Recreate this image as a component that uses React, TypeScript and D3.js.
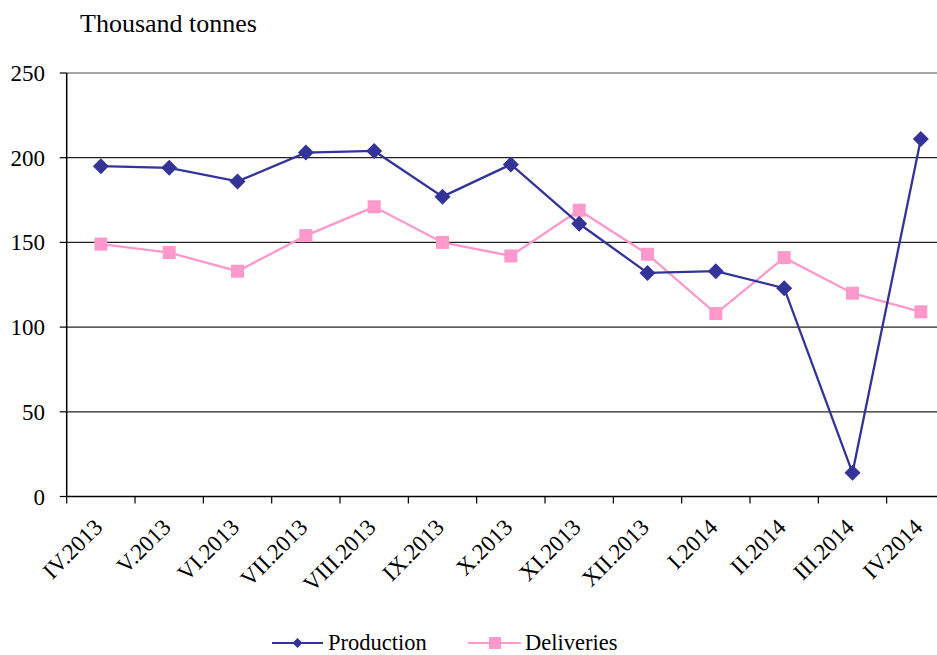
import React from "react";
import * as d3 from "d3";

const categories = ["IV.2013","V.2013","VI.2013","VII.2013","VIII.2013","IX.2013","X.2013","XI.2013","XII.2013","I.2014","II.2014","III.2014","IV.2014"];
const production = [195, 194, 186, 203, 204, 177, 196, 161, 132, 133, 123, 14, 211];
const deliveries = [149, 144, 133, 154, 171, 150, 142, 169, 143, 108, 141, 120, 109];
const yTicks = [0, 50, 100, 150, 200, 250];

const W = 937, H = 655;
const left = 66.7, bandW = 68.33;
const top = 73, bottom = 496.5;
const font = "Liberation Serif";
const PROD = "#333399", DEL = "#FF99CC";

export default function App() {
  const x = d3.scaleBand<string>().domain(categories).range([left, left + bandW * categories.length]).padding(0);
  const y = d3.scaleLinear().domain([0, 250]).range([bottom, top]);
  const cx = (c: string) => (x(c) as number) + x.bandwidth() / 2;
  const line = d3.line<number>().x((_, i) => cx(categories[i])).y((d) => y(d));
  const diamond = (px: number, py: number, r: number) => `M${px},${py - r}L${px + r},${py}L${px},${py + r}L${px - r},${py}Z`;
  const xRight = left + bandW * categories.length;

  return (
    <svg width={W} height={H} style={{ position: "absolute", left: 0, top: 0, background: "#fff", fontFamily: font }}>
      <text x={80} y={31.5} fontFamily={font} fontSize={26} fill="#000">Thousand tonnes</text>
      {yTicks.filter(t => t > 0 && t < 250).map(t => (
        <line key={t} x1={left} x2={xRight} y1={y(t)} y2={y(t)} stroke="#222" strokeWidth={1.2} />
      ))}
      <line x1={left} x2={xRight} y1={y(250)} y2={y(250)} stroke="#888" strokeWidth={1.5} />
      {yTicks.map(t => (
        <g key={"yt" + t}>
          <line x1={left - 7} x2={left} y1={y(t)} y2={y(t)} stroke="#000" strokeWidth={1.2} />
          <text x={45} y={y(t) + 8} textAnchor="end" fontFamily={font} fontSize={23} fill="#000">{t}</text>
        </g>
      ))}
      <line x1={left} x2={left} y1={top} y2={bottom} stroke="#000" strokeWidth={1.5} />
      <line x1={left} x2={xRight} y1={bottom} y2={bottom} stroke="#000" strokeWidth={1.5} />
      {categories.map((c, i) => (
        <line key={"xt" + c} x1={(x(c) as number)} x2={(x(c) as number)} y1={bottom} y2={bottom + 7} stroke="#000" strokeWidth={1.2} />
      ))}
      {categories.map(c => (
        <text key={"xl" + c} transform={`translate(${cx(c) + 3},${bottom + 32}) rotate(-45)`} textAnchor="end" fontFamily={font} fontSize={23} fill="#000">{c}</text>
      ))}
      <path d={line(deliveries) || ""} fill="none" stroke={DEL} strokeWidth={2.3} />
      {deliveries.map((d, i) => (
        <rect key={"d" + i} x={cx(categories[i]) - 6.5} y={y(d) - 6.5} width={13} height={13} fill={DEL} />
      ))}
      <path d={line(production) || ""} fill="none" stroke={PROD} strokeWidth={2.3} />
      {production.map((d, i) => (
        <path key={"p" + i} d={diamond(cx(categories[i]), y(d), 8)} fill={PROD} />
      ))}
      <g>
        <line x1={272} x2={323} y1={643} y2={643} stroke={PROD} strokeWidth={2} />
        <path d={diamond(297.5, 643, 5)} fill={PROD} />
        <text x={328} y={650} fontFamily={font} fontSize={22.5} fill="#000">Production</text>
        <line x1={468} x2={521} y1={643} y2={643} stroke={DEL} strokeWidth={2} />
        <rect x={489} y={637} width={12} height={12} fill={DEL} />
        <text x={525} y={650} fontFamily={font} fontSize={22.5} fill="#000">Deliveries</text>
      </g>
    </svg>
  );
}
